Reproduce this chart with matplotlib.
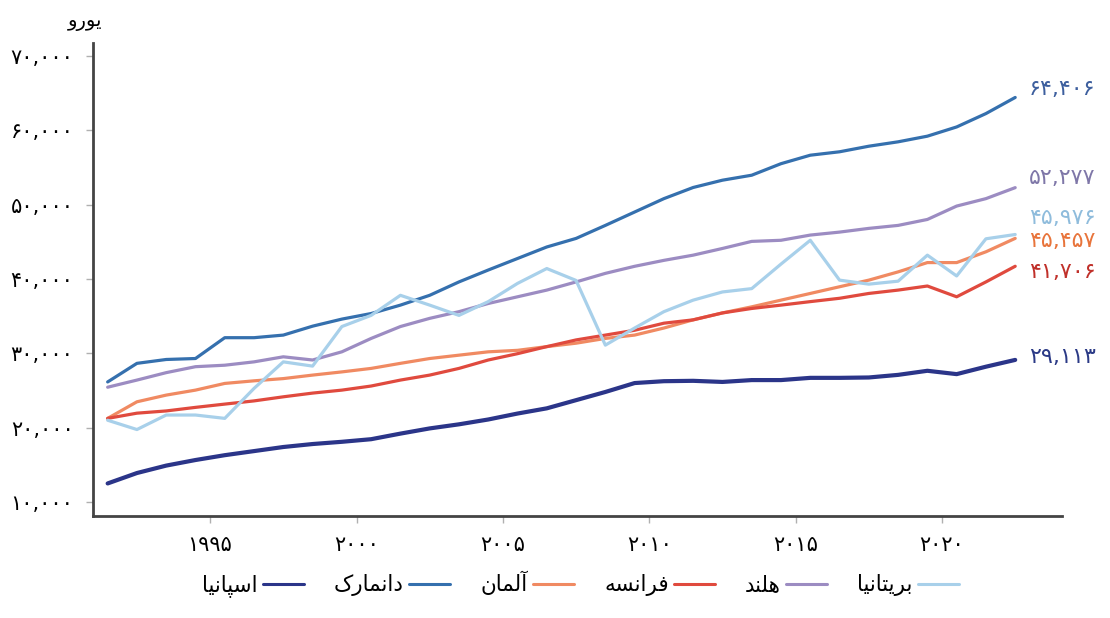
import matplotlib
matplotlib.use("Agg")
import matplotlib.pyplot as plt
import numpy as np

# ---- data ----
years = list(range(1991, 2023))

spain = [12500, 13900, 14900, 15650, 16300, 16850, 17400, 17800, 18100, 18450,
         19200, 19900, 20450, 21100, 21900, 22600, 23700, 24800, 26000, 26250,
         26300, 26150, 26400, 26400, 26700, 26700, 26750, 27100, 27650, 27200,
         28200, 29113]
denmark = [26150, 28650, 29170, 29300, 32100, 32100, 32450, 33650, 34600, 35350,
           36480, 37800, 39600, 41200, 42750, 44300, 45450, 47200, 49000, 50800,
           52300, 53280, 53950, 55500, 56640, 57100, 57850, 58440, 59200, 60440,
           62240, 64406]
germany = [21250, 23480, 24380, 25050, 25950, 26300, 26600, 27070, 27500, 27970,
           28650, 29300, 29750, 30200, 30400, 30900, 31360, 32000, 32450, 33400,
           34500, 35430, 36250, 37150, 38050, 38950, 39840, 40950, 42200, 42200,
           43650, 45457]
france = [21250, 21950, 22250, 22730, 23170, 23600, 24150, 24650, 25050, 25600,
          26400, 27070, 27970, 29100, 29950, 30900, 31800, 32450, 33100, 34050,
          34500, 35430, 36030, 36480, 36950, 37400, 38050, 38500, 39050, 37600,
          39600, 41706]
netherlands = [25440, 26400, 27400, 28200, 28400, 28850, 29530, 29100, 30200, 32000,
               33600, 34700, 35600, 36700, 37600, 38500, 39600, 40750, 41700, 42500,
               43200, 44100, 45050, 45200, 45900, 46300, 46800, 47200, 48000, 49800,
               50800, 52277]
britain = [21000, 19750, 21700, 21700, 21250, 25280, 28850, 28280, 33600, 35100,
           37800, 36480, 35100, 36950, 39400, 41400, 39800, 31100, 33400, 35600,
           37150, 38250, 38700, 42000, 45200, 39840, 39300, 39700, 43200, 40400,
           45400, 45976]

names = ['اسپانیا', 'دانمارک', 'آلمان', 'فرانسه', 'هلند', 'بریتانیا']
series = [spain, denmark, germany, france, netherlands, britain]
colors = ['#2b3589', '#3570ae', '#f08a62', '#e04a3e', '#9c8cc2', '#a8d0ea']
label_colors = ['#2b3a86', '#3d5f9e', '#e8743b', '#c0302a', '#7f77a8', '#8fbcdc']
label_dy = [3, 8, -3, -6, 10, 17]   # pixel nudges for end labels

y_ticks = [10000, 20000, 30000, 40000, 50000, 60000, 70000]
x_ticks = [1995, 2000, 2005, 2010, 2015, 2020]
unit_label = 'یورو'

# ---- minimal Persian shaping (presentation forms + RTL) ----
FORMS = {
    'ا': ('\uFE8D', '\uFE8E', None, None),
    'آ': ('\uFE81', '\uFE82', None, None),
    'ب': ('\uFE8F', '\uFE90', '\uFE91', '\uFE92'),
    'پ': ('\uFB56', '\uFB57', '\uFB58', '\uFB59'),
    'ت': ('\uFE95', '\uFE96', '\uFE97', '\uFE98'),
    'د': ('\uFEA9', '\uFEAA', None, None),
    'ر': ('\uFEAD', '\uFEAE', None, None),
    'س': ('\uFEB1', '\uFEB2', '\uFEB3', '\uFEB4'),
    'ف': ('\uFED1', '\uFED2', '\uFED3', '\uFED4'),
    'ک': ('\uFB8E', '\uFB8F', '\uFB90', '\uFB91'),
    'ل': ('\uFEDD', '\uFEDE', '\uFEDF', '\uFEE0'),
    'م': ('\uFEE1', '\uFEE2', '\uFEE3', '\uFEE4'),
    'ن': ('\uFEE5', '\uFEE6', '\uFEE7', '\uFEE8'),
    'ه': ('\uFEE9', '\uFEEA', '\uFEEB', '\uFEEC'),
    'و': ('\uFEED', '\uFEEE', None, None),
    'ی': ('\uFBFC', '\uFBFD', '\uFBFE', '\uFBFF'),
}


def shape(word):
    out = []
    for i, ch in enumerate(word):
        f = FORMS[ch]
        prev = word[i - 1] if i > 0 else None
        nxt = word[i + 1] if i + 1 < len(word) else None
        jp = prev is not None and FORMS[prev][2] is not None
        jn = f[2] is not None and nxt is not None
        if jp and jn:
            out.append(f[3])
        elif jp:
            out.append(f[1])
        elif jn:
            out.append(f[2])
        else:
            out.append(f[0])
    return ''.join(reversed(out))


FA_DIGITS = str.maketrans('0123456789', '۰۱۲۳۴۵۶۷۸۹')


def fa_num(v, comma=True):
    s = f"{v:,}" if comma else str(v)
    return s.translate(FA_DIGITS)


plt.rcParams['font.family'] = ['DejaVu Sans']

fig = plt.figure(figsize=(11.1, 6.18), dpi=100)
ax = fig.add_axes([0.0838, 0.165, 0.873, 0.765])

x = np.array(years) + 0.5
for name, vals, c in zip(names, series, colors):
    lw = 3.0 if name == 'اسپانیا' else 2.3
    ax.plot(x, vals, color=c, lw=lw, label=shape(name), solid_capstyle='round')

# end labels
for vals, c, dy in zip(series, label_colors, label_dy):
    ax.annotate(fa_num(vals[-1]), (x[-1], vals[-1]), xytext=(10, dy * 0.72),
                textcoords='offset points', ha='left', va='center',
                color=c, fontsize=16, annotation_clip=False)

ax.set_xlim(1991.0, 2024.1)
ax.set_ylim(8118, 71694)
ax.set_yticks(y_ticks)
ax.set_yticklabels([fa_num(v) for v in y_ticks], fontsize=15)
ax.set_xticks(x_ticks)
ax.set_xticklabels([fa_num(v, comma=False) for v in x_ticks], fontsize=15)

for s in ['top', 'right']:
    ax.spines[s].set_visible(False)
for s in ['left', 'bottom']:
    ax.spines[s].set_color('#444444')
    ax.spines[s].set_linewidth(2)
ax.tick_params(axis='both', length=5, width=1, color='#b0b0b0', pad=9)
ax.tick_params(axis='y', pad=9)

fig.text(0.077, 0.965, shape(unit_label), ha='center', va='center', fontsize=14)

leg = fig.legend(*ax.get_legend_handles_labels(), loc='center',
                 bbox_to_anchor=(0.523, 0.055), ncol=6, frameon=False,
                 markerfirst=False, fontsize=15.5, handlelength=1.9,
                 columnspacing=1.4, handletextpad=0.25)
for ln in leg.get_lines():
    ln.set_linewidth(2.2)

fig.savefig('out.png', dpi=100)
